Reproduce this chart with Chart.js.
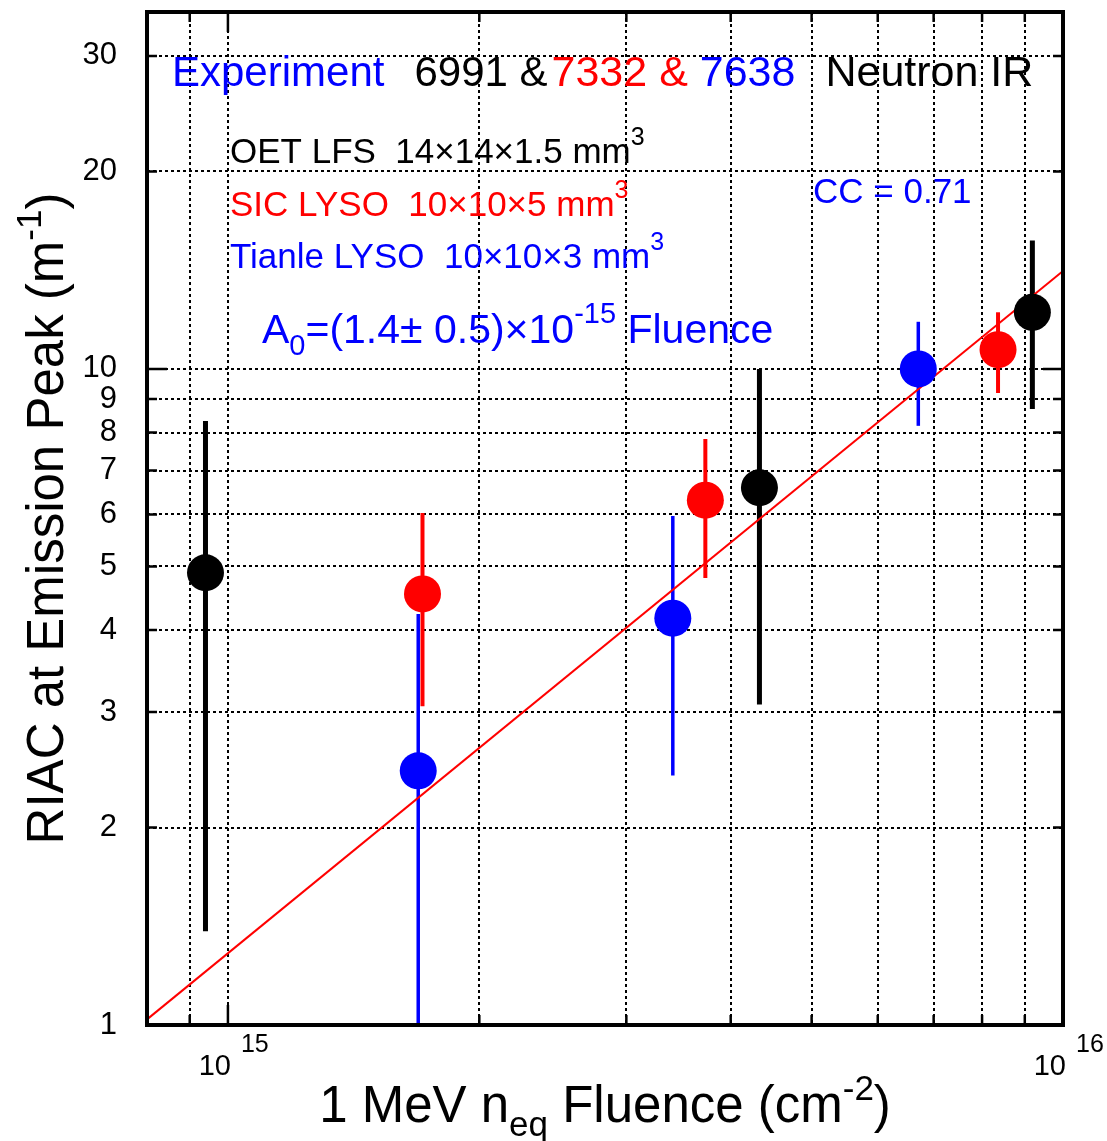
<!DOCTYPE html>
<html>
<head>
<meta charset="utf-8">
<script src="https://cdn.jsdelivr.net/npm/chart.js@4.4.0/dist/chart.umd.min.js"></script>
<style>
  html, body { margin: 0; padding: 0; background: #fff; }
  #wrap { width: 1107px; height: 1141px; }
</style>
</head>
<body>
<div id="wrap"><canvas id="c" width="1107" height="1141"></canvas></div>
<script>
const FONT = '"Liberation Sans", Arial, Helvetica, sans-serif';
const RED = '#ff0000', BLUE = '#0000ff', BLACK = '#000000';

// OET LFS (black)
const blackX  = [9.4e14, 4.33e15, 9.19e15];
const blackY  = [4.89, 6.59, 12.2];
const blackLo = [1.39, 3.08, 8.69];
const blackHi = [8.33, 10.0, 15.7];
// SIC LYSO (red)
const redX  = [1.71e15, 3.73e15, 8.36e15];
const redY  = [4.54, 6.31, 10.7];
const redLo = [3.06, 4.80, 9.19];
const redHi = [6.03, 7.82, 12.2];
// Tianle LYSO (blue)
const blueX  = [1.69e15, 3.41e15, 6.71e15];
const blueY  = [2.44, 4.17, 10.0];
const blueLo = [1.0, 2.40, 8.19];
const blueHi = [4.23, 5.97, 11.8];
// fit line A0 = 1.4e-15 * Fluence (as drawn)
const fitX = [8e14, 1e16];
const fitY = [1.02, 14.1];

// axes
const xMin = 8e14, xMax = 1e16;
const yMin = 1, yMax = 35;
const xGrid = [9e14, 1e15, 2e15, 3e15, 4e15, 5e15, 6e15, 7e15, 8e15, 9e15];
const yTicks = [1, 2, 3, 4, 5, 6, 7, 8, 9, 10, 20, 30];
const xLabelVals = [1e15, 1e16];
const xLabelExp = ['15', '16'];

function pts(xs, ys){ return xs.map((x, i) => ({ x, y: ys[i] })); }

function errBars(xs, lo, hi, color, w) {
  return xs.map((x, i) => ({
    type: 'line',
    data: [{ x, y: lo[i] }, { x, y: hi[i] }],
    borderColor: color, borderWidth: w,
    pointRadius: 0, order: 2
  }));
}

function markers(xs, ys, color) {
  return {
    type: 'scatter', data: pts(xs, ys),
    backgroundColor: color, borderColor: color, borderWidth: 0,
    pointRadius: 18.5, pointHoverRadius: 18.5, order: 0
  };
}

function isDecade(v){ const l = Math.log10(v); return Math.abs(l - Math.round(l)) < 1e-9; }

function rich(ctx, x, y, parts) {
  for (const p of parts) {
    ctx.font = `${p.size}px ${FONT}`;
    ctx.fillStyle = p.color;
    ctx.fillText(p.text, x, y + (p.dy || 0));
    x += ctx.measureText(p.text).width + (p.gap || 0);
  }
  return x;
}
function richWidth(ctx, parts) {
  let w = 0;
  for (const p of parts) { ctx.font = `${p.size}px ${FONT}`; w += ctx.measureText(p.text).width + (p.gap || 0); }
  return w;
}

const decorations = {
  id: 'decorations',
  afterDraw(chart) {
    const ctx = chart.ctx, ca = chart.chartArea;
    const xs = chart.scales.x, ys = chart.scales.y;
    ctx.save();
    ctx.textAlign = 'left';
    ctx.textBaseline = 'alphabetic';

    // frame + inner ticks
    ctx.strokeStyle = BLACK;
    ctx.lineWidth = 2.5;
    ctx.setLineDash([]);
    ctx.beginPath();
    yTicks.forEach(v => {
      const py = ys.getPixelForValue(v), len = isDecade(v) ? 20 : 10;
      ctx.moveTo(ca.left, py); ctx.lineTo(ca.left + len, py);
      ctx.moveTo(ca.right, py); ctx.lineTo(ca.right - len, py);
    });
    xGrid.forEach(v => {
      const px = xs.getPixelForValue(v), len = isDecade(v) ? 20 : 10;
      ctx.moveTo(px, ca.bottom); ctx.lineTo(px, ca.bottom - len);
      ctx.moveTo(px, ca.top); ctx.lineTo(px, ca.top + len);
    });
    ctx.stroke();
    ctx.lineWidth = 4;
    ctx.strokeRect(ca.left, ca.top, ca.right - ca.left, ca.bottom - ca.top);

    // x tick labels 10^15, 10^16
    xLabelVals.forEach((v, i) => {
      const px = xs.getPixelForValue(v);
      ctx.font = `29px ${FONT}`;
      ctx.fillStyle = BLACK;
      ctx.textAlign = 'right';
      ctx.fillText('10', px + 3, 1075);
      ctx.textAlign = 'left';
      ctx.font = `25px ${FONT}`;
      ctx.fillText(xLabelExp[i], px + 13, 1052);
    });

    // x title
    const xt = [
      { text: '1 MeV n', size: 51, color: BLACK },
      { text: 'eq', size: 35, color: BLACK, dy: 14 },
      { text: ' Fluence (cm', size: 51, color: BLACK },
      { text: '-2', size: 35, color: BLACK, dy: -22 },
      { text: ')', size: 51, color: BLACK }
    ];
    const xc = (ca.left + ca.right) / 2;
    rich(ctx, xc - richWidth(ctx, xt) / 2, 1122, xt);

    // y title
    const yt = [
      { text: 'RIAC at Emission Peak (m', size: 51, color: BLACK },
      { text: '-1', size: 35, color: BLACK, dy: -22 },
      { text: ')', size: 51, color: BLACK }
    ];
    ctx.save();
    ctx.translate(63, (ca.top + ca.bottom) / 2);
    ctx.rotate(-Math.PI / 2);
    rich(ctx, -richWidth(ctx, yt) / 2, 0, yt);
    ctx.restore();

    // annotations
    rich(ctx, 172, 86, [
      { text: 'Experiment', size: 42, color: BLUE, gap: 30 },
      { text: '6991 &', size: 42, color: BLACK, gap: 4 },
      { text: '7332 & ', size: 43, color: RED },
      { text: '7638', size: 43, color: BLUE, gap: 30 },
      { text: 'Neutron IR', size: 43, color: BLACK }
    ]);
    rich(ctx, 230, 163, [
      { text: 'OET LFS  14\u00d714\u00d71.5 mm', size: 35, color: BLACK },
      { text: '3', size: 25, color: BLACK, dy: -18 }
    ]);
    rich(ctx, 230, 216, [
      { text: 'SIC LYSO  10\u00d710\u00d75 mm', size: 35, color: RED },
      { text: '3', size: 25, color: RED, dy: -18 }
    ]);
    rich(ctx, 230, 268, [
      { text: 'Tianle LYSO  10\u00d710\u00d73 mm', size: 35, color: BLUE },
      { text: '3', size: 25, color: BLUE, dy: -18 }
    ]);
    rich(ctx, 262, 343, [
      { text: 'A', size: 41, color: BLUE },
      { text: '0', size: 29, color: BLUE, dy: 12 },
      { text: '=(1.4\u00b1 0.5)\u00d710', size: 41, color: BLUE },
      { text: '-15', size: 29, color: BLUE, dy: -20 },
      { text: ' Fluence', size: 41, color: BLUE }
    ]);
    rich(ctx, 813, 203, [{ text: 'CC = 0.71', size: 35, color: BLUE }]);

    ctx.restore();
  }
};

const gridOpts = { color: BLACK, lineWidth: 2, drawTicks: false };
const borderOpts = { display: false, dash: [3, 3] };

new Chart(document.getElementById('c').getContext('2d'), {
  type: 'scatter',
  data: {
    datasets: [
      markers(blackX, blackY, BLACK),
      markers(redX, redY, RED),
      markers(blueX, blueY, BLUE),
      {
        type: 'line', data: pts(fitX, fitY),
        borderColor: RED, borderWidth: 2, pointRadius: 0, order: 1
      },
      ...errBars(blackX, blackLo, blackHi, BLACK, 5),
      ...errBars(redX, redLo, redHi, RED, 4),
      ...errBars(blueX, blueLo, blueHi, BLUE, 3.5)
    ]
  },
  options: {
    responsive: false,
    animation: false,
    devicePixelRatio: 1,
    layout: { autoPadding: false, padding: { top: 12, right: 44, left: 0, bottom: 0 } },
    plugins: { legend: { display: false }, tooltip: { enabled: false } },
    scales: {
      x: {
        type: 'logarithmic', min: xMin, max: xMax,
        afterBuildTicks: s => { s.ticks = xGrid.map(v => ({ value: v })); },
        afterFit: s => { s.height = 116; s.paddingLeft = 0; s.paddingRight = 0; },
        ticks: { display: false },
        grid: gridOpts, border: borderOpts
      },
      y: {
        type: 'logarithmic', min: yMin, max: yMax,
        afterBuildTicks: s => { s.ticks = yTicks.map(v => ({ value: v })); },
        afterFit: s => { s.width = 147; s.paddingTop = 0; s.paddingBottom = 0; },
        ticks: {
          autoSkip: false, padding: 30, color: BLACK,
          font: { size: 31, family: FONT },
          callback: v => String(v)
        },
        grid: gridOpts, border: borderOpts
      }
    }
  },
  plugins: [decorations]
});
</script>
</body>
</html>
